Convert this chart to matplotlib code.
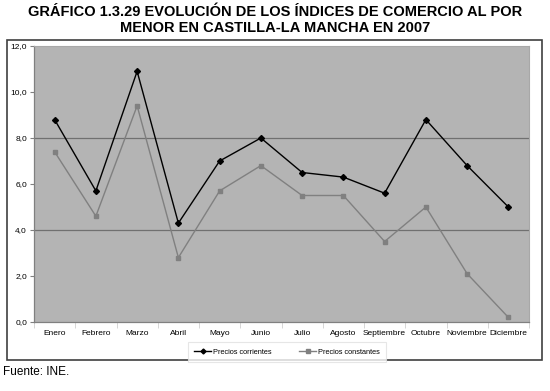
import matplotlib
matplotlib.use("Agg")
import matplotlib.pyplot as plt
from matplotlib.patches import Rectangle
from matplotlib.lines import Line2D
import numpy as np

plt.rcParams['font.family'] = ['Liberation Sans', 'DejaVu Sans']

meses = ["Enero", "Febrero", "Marzo", "Abril", "Mayo", "Junio", "Julio",
         "Agosto", "Septiembre", "Octubre", "Noviembre", "Diciembre"]
precios_corrientes = [8.8, 5.7, 10.9, 4.3, 7.0, 8.0, 6.5, 6.3, 5.6, 8.8, 6.8, 5.0]
precios_constantes = [7.4, 4.6, 9.4, 2.8, 5.7, 6.8, 5.5, 5.5, 3.5, 5.0, 2.1, 0.2]
yticks = [0, 2, 4, 6, 8, 10, 12]
title = "GRÁFICO 1.3.29 EVOLUCIÓN DE LOS ÍNDICES DE COMERCIO AL POR\nMENOR EN CASTILLA-LA MANCHA EN 2007"
source = "Fuente: INE."

W, H = 550, 391
fig = plt.figure(figsize=(W/100, H/100), dpi=100)

def fx(px):
    return px / W

def fy(py):
    return 1 - py / H

# Outer chart frame
fig.patches.append(Rectangle((fx(7), fy(360)), fx(542) - fx(7), fy(40) - fy(360),
                             transform=fig.transFigure, fill=False,
                             edgecolor='#404040', linewidth=1.2))

ax = fig.add_axes([fx(34), fy(322), fx(529) - fx(34), fy(46) - fy(322)])
ax.set_facecolor('#b4b4b4')

x = np.arange(len(meses))
ax.plot(x, precios_corrientes, color='black', linewidth=1.0, marker='D',
        markersize=3, markerfacecolor='black', markeredgecolor='black',
        label='Precios corrientes', zorder=3)
ax.plot(x, precios_constantes, color='#808080', linewidth=1.0, marker='s',
        markersize=3.5, markerfacecolor='#808080', markeredgecolor='#808080',
        label='Precios constantes', zorder=3)

ax.set_xlim(-0.5, len(meses) - 0.5)
ax.set_ylim(0, 12)
ax.set_yticks(yticks)
ax.set_yticklabels([f"{v:.1f}".replace('.', ',') for v in yticks], fontsize=6)
ax.set_xticks(x)
ax.set_xticklabels(meses, fontsize=6)
ax.set_xticks(np.arange(-0.5, len(meses), 1), minor=True)
ax.tick_params(axis='x', which='major', length=0, pad=6)
ax.tick_params(axis='x', which='minor', length=4, color='#d0d0d0', direction='out')
ax.tick_params(axis='y', length=3, color='#808080', pad=2)

for g in [4, 8]:
    ax.axhline(g, color='#707070', linewidth=0.9, zorder=1)

for s in ['top', 'right']:
    ax.spines[s].set_color('#a8a8a8')
    ax.spines[s].set_linewidth(0.8)
for s in ['left', 'bottom']:
    ax.spines[s].set_color('#808080')
    ax.spines[s].set_linewidth(0.9)

leg = fig.legend(handles=[
    Line2D([0], [0], color='black', lw=1.0, marker='D', markersize=2.5),
    Line2D([0], [0], color='#808080', lw=1.0, marker='s', markersize=3)],
    labels=['Precios corrientes', 'Precios constantes'],
    loc='center', bbox_to_anchor=(fx(287), fy(352)), ncol=2, fontsize=5.3,
    frameon=True, fancybox=False, handlelength=2.3, columnspacing=3.8,
    borderpad=0.9, handletextpad=0.2)
leg.get_frame().set_edgecolor('#e0e0e0')
leg.get_frame().set_linewidth(0.8)

fig.text(0.5, fy(20), title, ha='center', va='center', fontsize=10.5,
         fontweight='bold', linespacing=1.15)
fig.text(fx(3), fy(372), source, ha='left', va='center', fontsize=8.5)

fig.savefig("out.png", dpi=100)
